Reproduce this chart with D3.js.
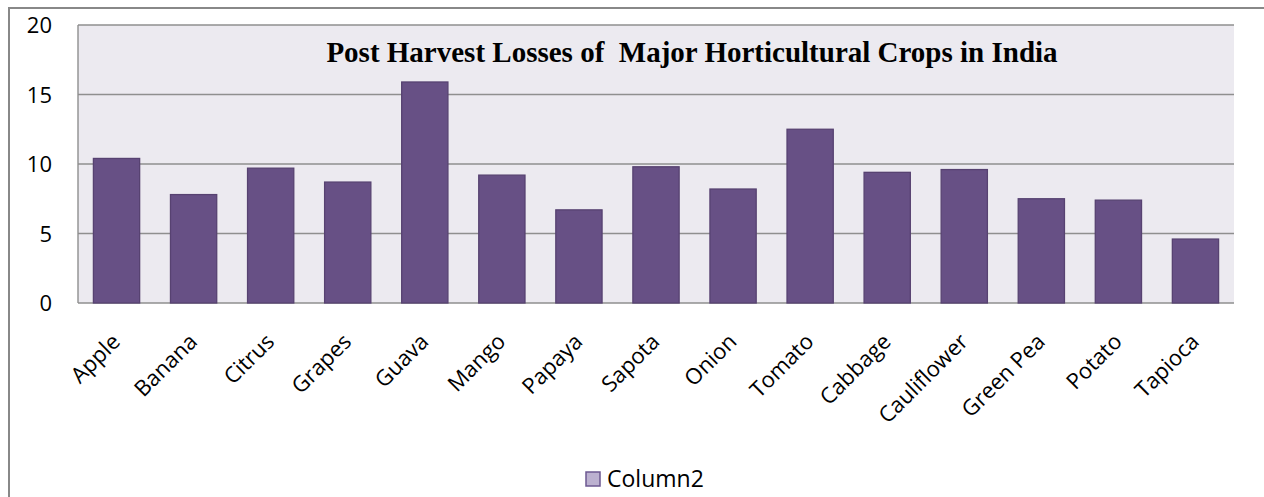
<!DOCTYPE html>
<html>
<head>
<meta charset="utf-8">
<script src="https://cdn.jsdelivr.net/npm/d3@7"></script>
<style>
  html, body { margin: 0; padding: 0; background: #ffffff; }
  svg { display: block; }
</style>
</head>
<body>
<svg id="chart" width="1264" height="497"></svg>
<script>
// Post-harvest losses (%) for major horticultural crops
const crops = ["Apple", "Banana", "Citrus", "Grapes", "Guava", "Mango", "Papaya", "Sapota",
               "Onion", "Tomato", "Cabbage", "Cauliflower", "Green Pea", "Potato", "Tapioca"];
const losses = [10.4, 7.8, 9.7, 8.7, 15.9, 9.2, 6.7, 9.8, 8.2, 12.5, 9.4, 9.6, 7.5, 7.4, 4.6];
const yTicks = [0, 5, 10, 15, 20];
const seriesName = "Column2";
const chartTitle = "Post Harvest Losses of\u00a0 Major Horticultural Crops in India";

const svg = d3.select("#chart");
const plot = { left: 78, right: 1234, top: 25, bottom: 303 };

// outer chart frame
svg.append("rect")
  .attr("x", 9).attr("y", 8)
  .attr("width", 1400).attr("height", 700)
  .attr("fill", "#ffffff")
  .attr("stroke", "#888888").attr("stroke-width", 2);

const x = d3.scaleBand()
  .domain(crops)
  .range([plot.left, plot.right])
  .paddingInner(0.4)
  .paddingOuter(0.2);

const y = d3.scaleLinear()
  .domain([0, 20])
  .range([plot.bottom, plot.top]);

// plot background
svg.append("rect")
  .attr("x", plot.left).attr("y", plot.top)
  .attr("width", plot.right - plot.left).attr("height", plot.bottom - plot.top)
  .attr("fill", "#ECEAF0");

// horizontal gridlines
svg.append("g")
  .selectAll("line")
  .data(yTicks)
  .join("line")
  .attr("x1", plot.left).attr("x2", plot.right)
  .attr("y1", d => y(d)).attr("y2", d => y(d))
  .attr("stroke", "#8F8F8F").attr("stroke-width", 1.4);

// left axis line
svg.append("line")
  .attr("x1", plot.left).attr("x2", plot.left)
  .attr("y1", plot.top).attr("y2", plot.bottom)
  .attr("stroke", "#8F8F8F").attr("stroke-width", 1.4);

// y axis labels
const yAxis = d3.axisLeft(y).tickValues(yTicks).tickSize(0).tickPadding(0);
const yg = svg.append("g")
  .attr("transform", `translate(${plot.left - 26},0)`)
  .call(yAxis);
yg.select(".domain").remove();
yg.selectAll("text")
  .attr("font-family", "'Open Sans', sans-serif")
  .attr("font-size", 22)
  .attr("fill", "#000")
  .attr("dy", "0.36em");

// bars
svg.append("g")
  .selectAll("rect")
  .data(crops.map((c, i) => ({ crop: c, value: losses[i] })))
  .join("rect")
  .attr("x", d => x(d.crop))
  .attr("y", d => y(d.value))
  .attr("width", x.bandwidth())
  .attr("height", d => y(0) - y(d.value))
  .attr("fill", "#675085")
  .attr("stroke", "#574271")
  .attr("stroke-width", 1.3);

// x axis labels, rotated
const xAxis = d3.axisBottom(x).tickSize(0).tickPadding(0);
const xg = svg.append("g")
  .attr("transform", `translate(0,${plot.bottom})`)
  .call(xAxis);
xg.select(".domain").remove();
xg.selectAll("text")
  .attr("font-family", "'Open Sans', sans-serif")
  .attr("font-size", 22)
  .attr("fill", "#000")
  .attr("text-anchor", "end")
  .attr("dy", 0)
  .attr("transform", "translate(5,40) rotate(-45)");

// title
svg.append("text")
  .attr("x", 692)
  .attr("y", 62)
  .attr("text-anchor", "middle")
  .attr("font-family", "'Liberation Serif', 'Times New Roman', serif")
  .attr("font-weight", "bold")
  .attr("font-size", 29)
  .attr("fill", "#000")
  .text(chartTitle);

// legend
const legend = svg.append("g").attr("transform", "translate(586,472)");
legend.append("rect")
  .attr("width", 14).attr("height", 14)
  .attr("fill", "#BCB1D0")
  .attr("stroke", "#6C5891").attr("stroke-width", 1.5);
legend.append("text")
  .attr("x", 21).attr("y", 15)
  .attr("font-family", "'Open Sans', sans-serif")
  .attr("font-size", 23)
  .attr("fill", "#000")
  .text(seriesName);
</script>
</body>
</html>
